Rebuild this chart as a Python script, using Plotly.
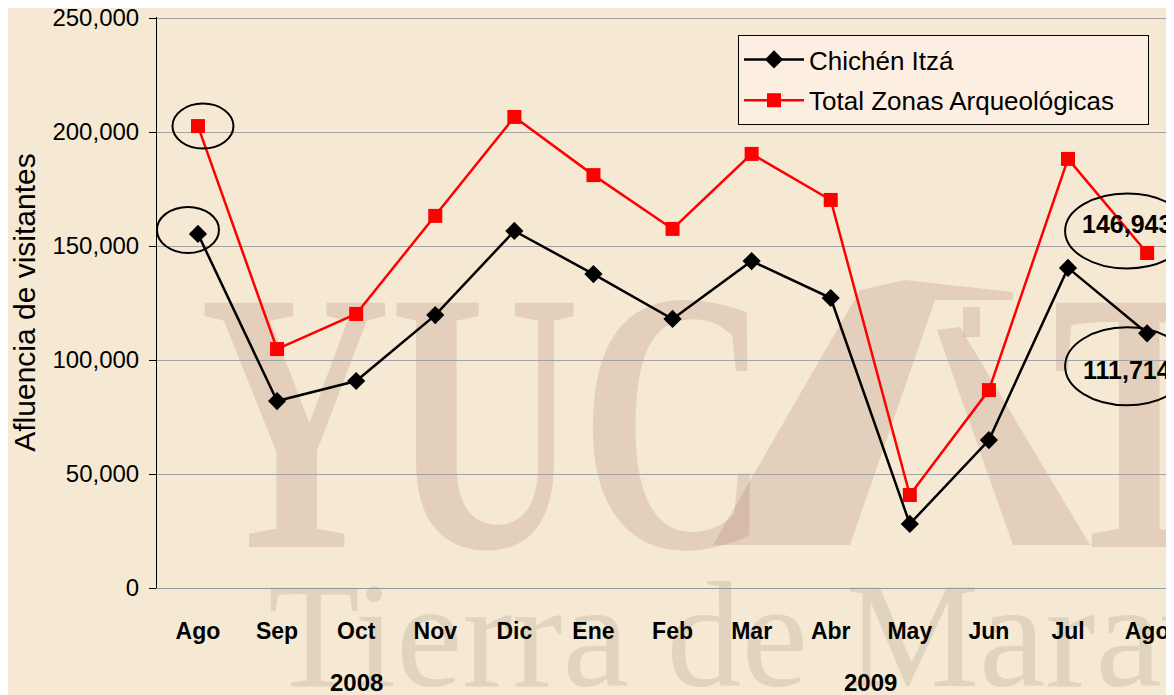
import base64
import plotly.graph_objects as go

# ---- data ----
months = ["Ago", "Sep", "Oct", "Nov", "Dic", "Ene", "Feb", "Mar", "Abr", "May", "Jun", "Jul", "Ago"]
chichen = [155300, 82000, 90800, 119700, 156600, 137700, 118000, 143400, 127200, 28100, 64900, 140400, 111714]
total = [202600, 104800, 120200, 163200, 206600, 181100, 157500, 190400, 170200, 40800, 86800, 188200, 146943]
years = ["2008", "2009"]
year_pos = [2, 8.5]
y_ticks = [0, 50000, 100000, 150000, 200000, 250000]

xs = list(range(len(months)))

OFF = 8  # page body margin offset
Y_TOP = 250450  # slightly above the last gridline so it is drawn
W, H = 1174 - OFF, 695 - OFF
PX_PER = 570 / 250000
MB = 107
PH = 570 * Y_TOP / 250000
ML, MR = 157 - OFF, 0
MT = H - MB - PH
PW = W - ML - MR

# ---- watermark background (SVG image, drawn in reference page coordinates) ----
svg = f"""<svg xmlns='http://www.w3.org/2000/svg' width='{W}' height='{H}' viewBox='{OFF} {OFF} {W} {H}' preserveAspectRatio='none'>
<g fill='rgb(170,125,110)' fill-opacity='0.24'>
<text x='200' y='547' font-family='Liberation Serif' font-weight='bold' font-size='373' textLength='570' lengthAdjust='spacingAndGlyphs'>YUC</text>
<polygon points='713,545 860,290 905,280 1013,292 1013,300 935,300 850,545'/>
<polygon points='937,330 960,327 1090,545 1013,545'/>
<rect x='963' y='307' width='17' height='30'/>
<text x='1052' y='547' font-family='Liberation Serif' font-weight='bold' font-size='373' textLength='175' lengthAdjust='spacingAndGlyphs'>T</text>
</g>
<text x='268' y='686' font-family='Liberation Serif' font-size='150' fill='rgb(150,135,115)' fill-opacity='0.22'>Tierra de Maravillas</text>
</svg>"""
svg_uri = "data:image/svg+xml;base64," + base64.b64encode(svg.encode("utf-8")).decode()

fig = go.Figure()
fig.add_trace(go.Scatter(
    x=xs, y=chichen, name="Chichén Itzá", mode="lines+markers",
    line=dict(color="black", width=2.5),
    marker=dict(symbol="diamond", size=14, color="black"),
    legendgroup="a",
))
fig.add_trace(go.Scatter(
    x=xs, y=total, name="Total Zonas Arqueológicas\u00a0\u00a0\u00a0\u00a0", mode="lines+markers",
    line=dict(color="#ff0000", width=2.5),
    marker=dict(symbol="square", size=14, color="#ff0000"),
    legendgroup="b",
))

FONT = "Liberation Sans, Arial, sans-serif"


def ellipse(i, v, dx, dy, w, h):
    fig.add_shape(type="circle", xref="x", yref="y", xsizemode="pixel", ysizemode="pixel",
                  xanchor=i, yanchor=v, x0=dx - w / 2, x1=dx + w / 2, y0=dy - h / 2, y1=dy + h / 2,
                  line=dict(color="black", width=2), layer="above")


ellipse(0, total[0], 5, 0, 61, 45)
ellipse(0, chichen[0], -10, 4, 62, 46)
ellipse(12, total[12], -20, 22, 124, 75)
ellipse(12, chichen[12], -20, -33, 124, 78)

fig.add_annotation(x=12, y=total[12], xref="x", yref="y", text=f"<b>{total[12]:,}</b>",
                   showarrow=False, xshift=-20, yshift=29, font=dict(family=FONT, size=25, color="black"))
fig.add_annotation(x=12, y=chichen[12], xref="x", yref="y", text=f"<b>{chichen[12]:,}</b>",
                   showarrow=False, xshift=-20, yshift=-37, font=dict(family=FONT, size=25, color="black"))

for yr, p in zip(years, year_pos):
    fig.add_annotation(x=p, xref="x", y=(588 - 683) / PH, yref="paper", text=f"<b>{yr}</b>",
                       showarrow=False, yanchor="middle", font=dict(family=FONT, size=24, color="black"))

fig.add_layout_image(dict(source=svg_uri, xref="paper", yref="paper",
                          x=-ML / PW, y=1 + MT / PH, sizex=W / PW, sizey=H / PH,
                          xanchor="left", yanchor="top", sizing="stretch", layer="below"))

fig.update_layout(
    width=W, height=H,
    margin=dict(l=ML, r=MR, t=MT, b=MB, autoexpand=False),
    paper_bgcolor="#f5e9d4",
    plot_bgcolor="rgba(0,0,0,0)",
    font=dict(family=FONT, color="black"),
    showlegend=True,
    legend=dict(
        x=(738 - 157) / PW, y=(588 - 35) / PH, xanchor="left", yanchor="top",
        bgcolor="#fdeee2", bordercolor="black", borderwidth=1,
        font=dict(family=FONT, size=26, color="black"),
        itemwidth=60, traceorder="grouped", tracegroupgap=4,
    ),
    xaxis=dict(
        range=[-0.518, 12.34], tickvals=xs, ticktext=[f"<b>{m}</b>" for m in months],
        tickfont=dict(family=FONT, size=23, color="black"),
        showgrid=False, zeroline=False, showline=True, linecolor="#8f98a8", linewidth=1,
        ticks="", ticklabelstandoff=22,
    ),
    yaxis=dict(
        range=[0, Y_TOP], tickvals=y_ticks, tickformat=",",
        tickfont=dict(family=FONT, size=24, color="black"),
        showgrid=True, gridcolor="#a3a3a3", gridwidth=1, zeroline=False,
        showline=True, linecolor="black", linewidth=1,
        ticks="outside", ticklen=7, tickcolor="black", ticklabelstandoff=5,
        ticklabeloverflow="allow",
        title=dict(text="Afluencia de visitantes", font=dict(family=FONT, size=30, color="black"), standoff=9),
    ),
)

fig.write_html("out.html")
